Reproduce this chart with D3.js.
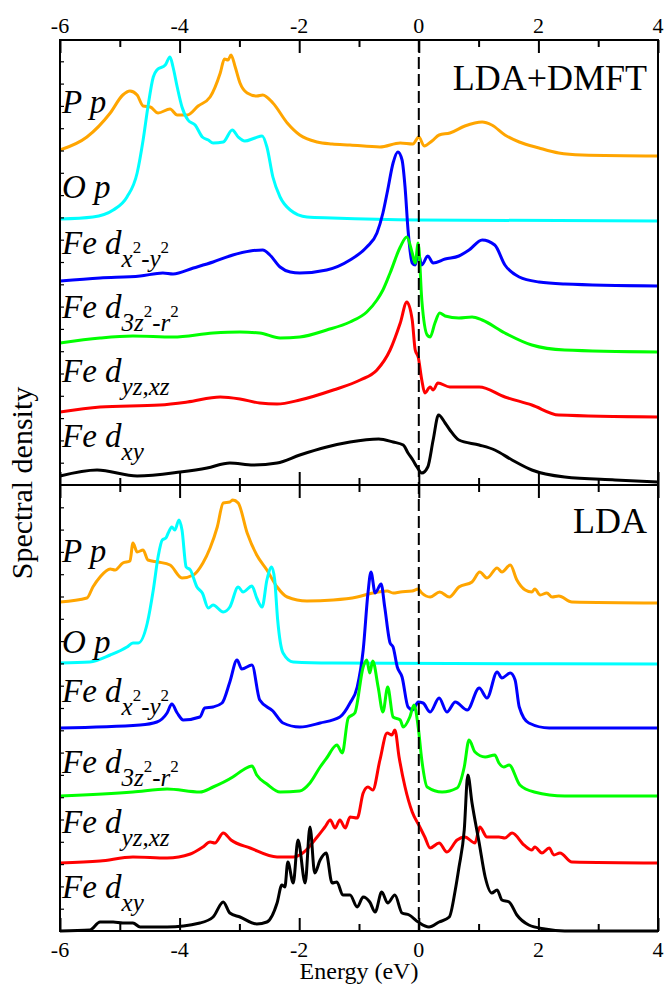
<!DOCTYPE html>
<html>
<head>
<meta charset="utf-8">
<script src="https://cdn.jsdelivr.net/npm/d3@7"></script>
<style>
  body { margin: 0; background: #fff; }
  text { font-family: "Liberation Serif", "Times New Roman", serif; fill: #000; }
</style>
</head>
<body>
<svg id="chart" width="664" height="986"></svg>
<script>
// energy grid ticks (eV)
const majorTicks = [-6, -4, -2, 0, 2, 4]
const minorTicks = [-5, -3, -1, 1, 3]

// ---- LDA+DMFT spectral densities, [energy, density] (arb. units) ----
const dmftPp = [[-6,0.6],[-5.55,1.9],[-5.16,4.3],[-4.95,6.1],[-4.83,6.5],[-4.71,6.1],[-4.61,5.0],[-4.49,4.9],[-4.36,4.3],[-4.16,4.7],[-4.04,4.1],[-3.87,4.1],[-3.69,5.0],[-3.49,5.9],[-3.32,8.3],[-3.25,9.7],[-3.19,9.6],[-3.14,10.1],[-3.07,8.9],[-2.99,7.3],[-2.87,6.3],[-2.71,6.0],[-2.61,6.1],[-2.44,5.3],[-2.2,3.3],[-1.99,2.1],[-1.7,1.4],[-1.45,1.2],[-1.15,1.1],[-0.65,0.9],[-0.31,1.3],[-0.1,1.2],[0,1.9],[0.09,1.0],[0.22,1.5],[0.34,2.1],[0.52,2.3],[0.77,3.0],[1.06,3.4],[1.22,3.1],[1.44,2.1],[1.68,1.4],[2.01,0.8],[2.34,0.3],[2.73,0.1],[4,0]]
const dmftOp = [[-6,0.2],[-5.45,0.4],[-5.11,1.1],[-4.88,2.4],[-4.71,4.8],[-4.61,8.1],[-4.53,11.4],[-4.44,14.4],[-4.38,15.1],[-4.24,15.6],[-4.16,16.4],[-4.11,15.4],[-4.04,13.4],[-3.96,11.4],[-3.86,10.1],[-3.74,9.6],[-3.62,8.4],[-3.52,8.1],[-3.44,7.8],[-3.27,7.9],[-3.12,9.1],[-3.02,8.4],[-2.91,8.0],[-2.74,8.3],[-2.62,8.5],[-2.54,7.4],[-2.44,4.4],[-2.32,2.4],[-2.15,1.1],[-1.87,0.4],[-1.45,0.3],[0,0.1],[4,0]]
const dmftX2y2 = [[-6,0.5],[-5.33,0.8],[-4.66,1.0],[-4.28,1.3],[-4.11,1.2],[-3.77,1.8],[-3.44,2.4],[-3.11,3.1],[-2.82,3.5],[-2.61,3.6],[-2.49,3.1],[-2.32,1.9],[-2.15,1.4],[-1.99,1.3],[-1.54,1.6],[-1.15,2.6],[-0.87,3.9],[-0.7,5.3],[-0.6,7.3],[-0.52,9.6],[-0.43,12.3],[-0.35,13.4],[-0.28,12.6],[-0.23,9.9],[-0.18,5.6],[-0.11,2.3],[-0.06,2.1],[-0.01,3.3],[0.05,2.1],[0.15,3.0],[0.24,2.3],[0.44,2.7],[0.67,3.0],[0.84,3.6],[1.06,4.6],[1.27,4.1],[1.44,2.1],[1.68,0.9],[2.01,0.4],[2.44,0.2],[4,0]]
const dmft3z2 = [[-6,0.9],[-5.33,1.4],[-4.78,1.6],[-4.11,1.5],[-3.44,1.9],[-2.99,2.0],[-2.66,1.9],[-2.32,1.4],[-1.99,1.5],[-1.54,2.2],[-1.15,3.0],[-0.87,4.0],[-0.7,5.2],[-0.6,6.2],[-0.48,7.9],[-0.31,10.5],[-0.2,11.5],[-0.11,9.9],[-0.06,8.9],[-0.01,10.9],[0.05,5.2],[0.14,1.7],[0.19,1.5],[0.27,2.9],[0.35,3.9],[0.44,3.6],[0.67,3.4],[0.89,3.5],[1.06,3.2],[1.44,1.9],[1.89,0.7],[2.44,0.2],[4,0]]
const dmftYzXz = [[-6,0.5],[-5.33,1.0],[-4.33,1.2],[-3.87,1.5],[-3.32,2.0],[-2.99,1.8],[-2.66,1.4],[-2.37,1.3],[-1.99,1.7],[-1.43,2.7],[-0.98,3.7],[-0.7,4.7],[-0.48,6.7],[-0.31,9.4],[-0.2,11.5],[-0.11,9.7],[-0.06,6.7],[-0.01,6.0],[0.05,3.7],[0.1,2.4],[0.19,3.0],[0.24,2.7],[0.32,3.4],[0.52,3.0],[0.67,3.0],[1.01,3.0],[1.44,2.0],[1.89,1.2],[2.34,0.2],[4,0]]
const dmftXy = [[-6,0.6],[-5.38,1.2],[-4.71,0.6],[-3.99,1.0],[-3.54,1.4],[-3.16,1.9],[-2.77,1.7],[-2.37,1.9],[-1.99,2.7],[-1.54,3.5],[-1.15,4.0],[-0.67,4.3],[-0.43,4.0],[-0.26,3.7],[-0.18,2.9],[-0.1,2.2],[-0.03,1.5],[0.05,0.9],[0.15,1.5],[0.24,4.2],[0.33,6.7],[0.44,5.9],[0.52,5.2],[0.67,4.2],[1.01,3.7],[1.27,3.2],[1.56,2.2],[1.89,1.2],[2.44,0.5],[3.28,0.2],[4,0]]

// ---- LDA spectral densities ----
const ldaPp = [[-6,0.1],[-5.55,0.5],[-5.45,1.6],[-5.33,2.6],[-5.16,3.4],[-5.08,3.3],[-4.95,4.0],[-4.83,4.2],[-4.78,6.0],[-4.71,5.1],[-4.61,5.3],[-4.53,4.3],[-4.36,4.1],[-4.16,3.8],[-3.96,2.5],[-3.77,2.8],[-3.61,4.0],[-3.49,5.5],[-3.37,7.6],[-3.27,10.0],[-3.16,10.1],[-3.11,10.3],[-3.02,10.0],[-2.87,7.0],[-2.71,4.8],[-2.54,3.3],[-2.37,1.6],[-2.2,0.6],[-1.87,0.2],[-1.43,0.3],[-1.03,0.6],[-0.77,1.0],[-0.53,1.2],[-0.43,1.0],[-0.31,1.1],[-0.11,1.2],[-0.01,1.4],[0.05,1.0],[0.19,0.6],[0.35,1.1],[0.51,0.6],[0.67,1.6],[0.89,2.1],[1.02,3.1],[1.14,2.5],[1.31,3.5],[1.39,3.1],[1.53,3.8],[1.64,2.3],[1.78,1.3],[1.89,1.1],[1.94,1.4],[2.03,0.8],[2.14,1.0],[2.23,0.6],[2.34,0.7],[2.56,0.1],[4,0]]
const ldaOp = [[-6,0.1],[-5.5,0.2],[-5.16,0.9],[-4.88,1.7],[-4.78,2.1],[-4.69,2.1],[-4.54,4.1],[-4.44,7.4],[-4.36,10.7],[-4.29,12.4],[-4.23,12.6],[-4.19,13.1],[-4.13,13.7],[-4.08,13.4],[-4.01,14.4],[-3.96,13.4],[-3.89,9.7],[-3.82,9.4],[-3.71,7.7],[-3.62,7.1],[-3.52,5.6],[-3.44,5.9],[-3.27,5.2],[-3.16,5.7],[-3.02,7.7],[-2.94,7.2],[-2.79,7.8],[-2.71,6.6],[-2.62,5.7],[-2.54,8.4],[-2.46,9.7],[-2.41,8.4],[-2.36,4.4],[-2.27,1.1],[-2.1,0.2],[-1.45,0.1],[4,0]]
const ldaX2y2 = [[-6,0],[-4.66,0.3],[-4.38,0.6],[-4.21,1.5],[-4.13,2.4],[-4.04,1.5],[-3.94,0.8],[-3.66,1.1],[-3.58,2.0],[-3.44,2.1],[-3.29,2.5],[-3.16,4.6],[-3.04,6.8],[-2.96,5.9],[-2.79,6.3],[-2.66,2.8],[-2.44,1.7],[-2.27,0.5],[-1.99,0.1],[-1.65,0.5],[-1.32,1.1],[-1.15,2.5],[-1.03,4.1],[-0.93,7.8],[-0.85,13.5],[-0.8,15.6],[-0.73,13.5],[-0.63,14.4],[-0.57,12.1],[-0.48,8.5],[-0.43,8.1],[-0.36,6.1],[-0.28,5.1],[-0.18,2.1],[-0.1,1.8],[-0.01,2.6],[0.07,2.5],[0.19,1.6],[0.34,3.0],[0.47,1.6],[0.61,2.6],[0.81,1.8],[1.01,4.0],[1.14,3.0],[1.31,5.6],[1.39,5.0],[1.53,5.5],[1.61,4.8],[1.68,2.1],[1.84,0.5],[2.18,0],[4,0]]
const lda3z2 = [[-6,0],[-4.78,0.4],[-4.21,0.7],[-3.66,0.4],[-3.44,0.9],[-3.11,1.9],[-2.94,2.6],[-2.79,3.0],[-2.71,2.1],[-2.54,1.2],[-2.32,0.4],[-1.99,0.5],[-1.82,1.3],[-1.65,2.9],[-1.54,3.8],[-1.37,5.1],[-1.28,4.3],[-1.18,7.8],[-1.07,8.3],[-0.93,12.9],[-0.87,13.6],[-0.82,12.3],[-0.77,13.5],[-0.68,10.9],[-0.6,8.4],[-0.52,10.9],[-0.43,7.9],[-0.31,7.6],[-0.26,6.9],[-0.15,7.9],[-0.08,9.1],[-0.01,6.9],[0.05,3.6],[0.14,0.9],[0.39,0.4],[0.64,0.8],[0.76,2.9],[0.84,5.6],[0.94,4.4],[1.11,3.9],[1.27,4.1],[1.34,3.3],[1.42,2.9],[1.51,3.1],[1.69,1.1],[1.93,0.4],[2.44,0],[4,0]]
const ldaYzXz = [[-6,0],[-5.33,0.2],[-4.78,0.6],[-4.21,0.5],[-3.82,0.9],[-3.61,1.6],[-3.49,2.1],[-3.41,2.0],[-3.27,3.0],[-3.14,2.3],[-2.82,1.5],[-2.37,0.6],[-2.1,0.6],[-1.94,1.0],[-1.7,2.6],[-1.57,3.6],[-1.48,4.3],[-1.4,3.5],[-1.32,4.3],[-1.23,3.5],[-1.15,4.6],[-1.03,4.5],[-0.93,7.0],[-0.85,7.6],[-0.77,7.3],[-0.65,10.3],[-0.53,13.0],[-0.45,12.8],[-0.4,13.3],[-0.33,10.6],[-0.23,7.6],[-0.11,5.1],[0,3.8],[0.1,2.6],[0.19,1.5],[0.34,2.0],[0.47,1.1],[0.64,2.3],[0.77,2.6],[0.94,2.0],[1.02,3.6],[1.14,2.6],[1.34,2.6],[1.44,2.5],[1.56,3.0],[1.76,1.8],[1.89,1.3],[1.94,1.6],[2.06,1.0],[2.18,1.5],[2.26,0.8],[2.36,1.0],[2.56,0.1],[4,0]]
const ldaXy = [[-6,0],[-5.5,0.1],[-5.33,0.9],[-5.11,0.9],[-4.95,0.8],[-4.78,0.8],[-4.66,0.4],[-4.21,0.4],[-3.66,0.8],[-3.44,1.4],[-3.27,2.9],[-3.16,1.8],[-2.99,1.4],[-2.71,0.7],[-2.54,0.9],[-2.37,2.8],[-2.29,4.6],[-2.24,4.4],[-2.19,6.9],[-2.1,4.8],[-2.02,9.1],[-1.9,4.8],[-1.82,10.4],[-1.74,5.8],[-1.65,7.1],[-1.55,7.8],[-1.45,4.8],[-1.37,4.9],[-1.27,3.6],[-1.15,3.6],[-1.03,2.4],[-0.93,3.4],[-0.82,2.9],[-0.73,1.9],[-0.62,3.9],[-0.52,2.8],[-0.4,3.6],[-0.28,1.8],[-0.16,1.6],[-0.01,0.9],[0.17,0.4],[0.34,0.9],[0.51,1.4],[0.61,4.1],[0.67,6.3],[0.76,10.1],[0.82,15.6],[0.89,12.8],[1.01,8.8],[1.11,5.4],[1.22,3.8],[1.31,4.1],[1.39,3.1],[1.51,2.9],[1.64,1.6],[1.84,0.6],[2.11,0.2],[2.44,0],[4,0]]

// vertical shifts of the stacked curves (same units)
const dmftOffsets = [32.9, 26.4, 19.9, 13.3, 6.8, 0.3]
const ldaOffsets  = [32.8, 26.7, 20.3, 13.5, 6.8, 0]

const orbitalColors = ['#ffa500', '#00ffff', '#0000ff', '#00ff00', '#ff0000', '#000000']

// label pieces: [text, level] level 0 = main, 1 = subscript, 2 = superscript on subscript
const orbitalLabels = [
  [['P p', 0]],
  [['O p', 0]],
  [['Fe d', 0], ['x', 1], ['2', 2], ['-y', 1], ['2', 2]],
  [['Fe d', 0], ['3z', 1], ['2', 2], ['-r', 1], ['2', 2]],
  [['Fe d', 0], ['yz,xz', 1]],
  [['Fe d', 0], ['xy', 1]]
]

const left = 60, right = 658
const svg = d3.select('#chart')

const x = d3.scaleLinear().domain([-6, 4]).range([left, right])

const panels = [
  { name: 'LDA+DMFT', top: 40, bottom: 485, ymax: 44.5,
    curves: [dmftPp, dmftOp, dmftX2y2, dmft3z2, dmftYzXz, dmftXy], offsets: dmftOffsets,
    labelY: [113, 198, 254, 318, 382, 447] },
  { name: 'LDA', top: 485, bottom: 931, ymax: 44.6,
    curves: [ldaPp, ldaOp, ldaX2y2, lda3z2, ldaYzXz, ldaXy], offsets: ldaOffsets,
    labelY: [562, 653, 702, 773, 833, 898] }
]

function drawLabel(g, lx, ly, parts){
  var t = g.append('text').attr('x', lx).attr('y', ly).style('font-style', 'italic')
  var sizes = [33, 25, 17], shift = [0, 13, -1]
  parts.forEach(p => {
    t.append('tspan')
      .attr('y', ly + shift[p[1]])
      .style('font-size', sizes[p[1]] + 'px')
      .style('font-style', p[1] == 2 ? 'normal' : 'italic')
      .text(p[0])
  })
}

panels.forEach((p, pi) => {
  var y = d3.scaleLinear().domain([0, p.ymax]).range([p.bottom, p.top])
  var g = svg.append('g')

  var line = d3.line()
    .x(d => x(d[0]))
    .curve(d3.curveMonotoneX)

  p.curves.forEach((c, i) => {
    g.append('path')
      .datum(c)
      .attr('fill', 'none')
      .attr('stroke', orbitalColors[i])
      .attr('stroke-width', 3)
      .attr('stroke-linejoin', 'round')
      .attr('d', line.y(d => y(d[1] + p.offsets[i])))
  })

  p.curves.forEach((c, i) => drawLabel(g, 62, p.labelY[i], orbitalLabels[i]))

  // x ticks, inward on top and bottom
  var axTop = d3.axisTop(x).tickValues(majorTicks).tickSize(-13).tickFormat('')
  var axTopMinor = d3.axisTop(x).tickValues(minorTicks).tickSize(-7).tickFormat('')
  var axBot = d3.axisBottom(x).tickValues(majorTicks).tickSize(-13).tickFormat('')
  var axBotMinor = d3.axisBottom(x).tickValues(minorTicks).tickSize(-7).tickFormat('')
  ;[[axTop, p.top], [axTopMinor, p.top], [axBot, p.bottom], [axBotMinor, p.bottom]].forEach(a => {
    var ag = g.append('g').attr('transform', `translate(0,${a[1]})`).call(a[0])
    ag.select('.domain').remove()
    ag.selectAll('line').attr('stroke', '#000').attr('stroke-width', 2)
  })

  // small unlabeled density ticks on the left edge
  var axLeft = d3.axisRight(y).tickValues(d3.range(2.23, p.ymax - 1, 2.23)).tickSize(4).tickFormat('')
  var lg = g.append('g').attr('transform', `translate(${left},0)`).call(axLeft)
  lg.select('.domain').remove()
  lg.selectAll('line').attr('stroke', '#000').attr('stroke-width', 1.2)

  g.append('rect')
    .attr('x', left).attr('y', p.top)
    .attr('width', right - left).attr('height', p.bottom - p.top)
    .attr('fill', 'none').attr('stroke', '#000').attr('stroke-width', 2)

  g.append('text')
    .attr('x', 647).attr('y', pi == 0 ? 90 : 533)
    .attr('text-anchor', 'end')
    .style('font-size', '36px')
    .text(p.name)
})

// Fermi level
svg.append('line')
  .attr('x1', x(0)).attr('x2', x(0))
  .attr('y1', 40).attr('y2', 931)
  .attr('stroke', '#000').attr('stroke-width', 2)
  .attr('stroke-dasharray', '12,5')

// tick labels top and bottom
svg.append('g').selectAll('text').data(majorTicks).enter().append('text')
  .attr('x', d => x(d)).attr('y', 33)
  .attr('text-anchor', 'middle').style('font-size', '22px')
  .text(d => d)
svg.append('g').selectAll('text').data(majorTicks).enter().append('text')
  .attr('x', d => x(d)).attr('y', 957)
  .attr('text-anchor', 'middle').style('font-size', '22px')
  .text(d => d)

svg.append('text')
  .attr('x', (left + right) / 2).attr('y', 979)
  .attr('text-anchor', 'middle').style('font-size', '24px')
  .text('Energy (eV)')

svg.append('text')
  .attr('transform', 'translate(32,483) rotate(-90)')
  .attr('text-anchor', 'middle').style('font-size', '30px')
  .text('Spectral density')
</script>
</body>
</html>
